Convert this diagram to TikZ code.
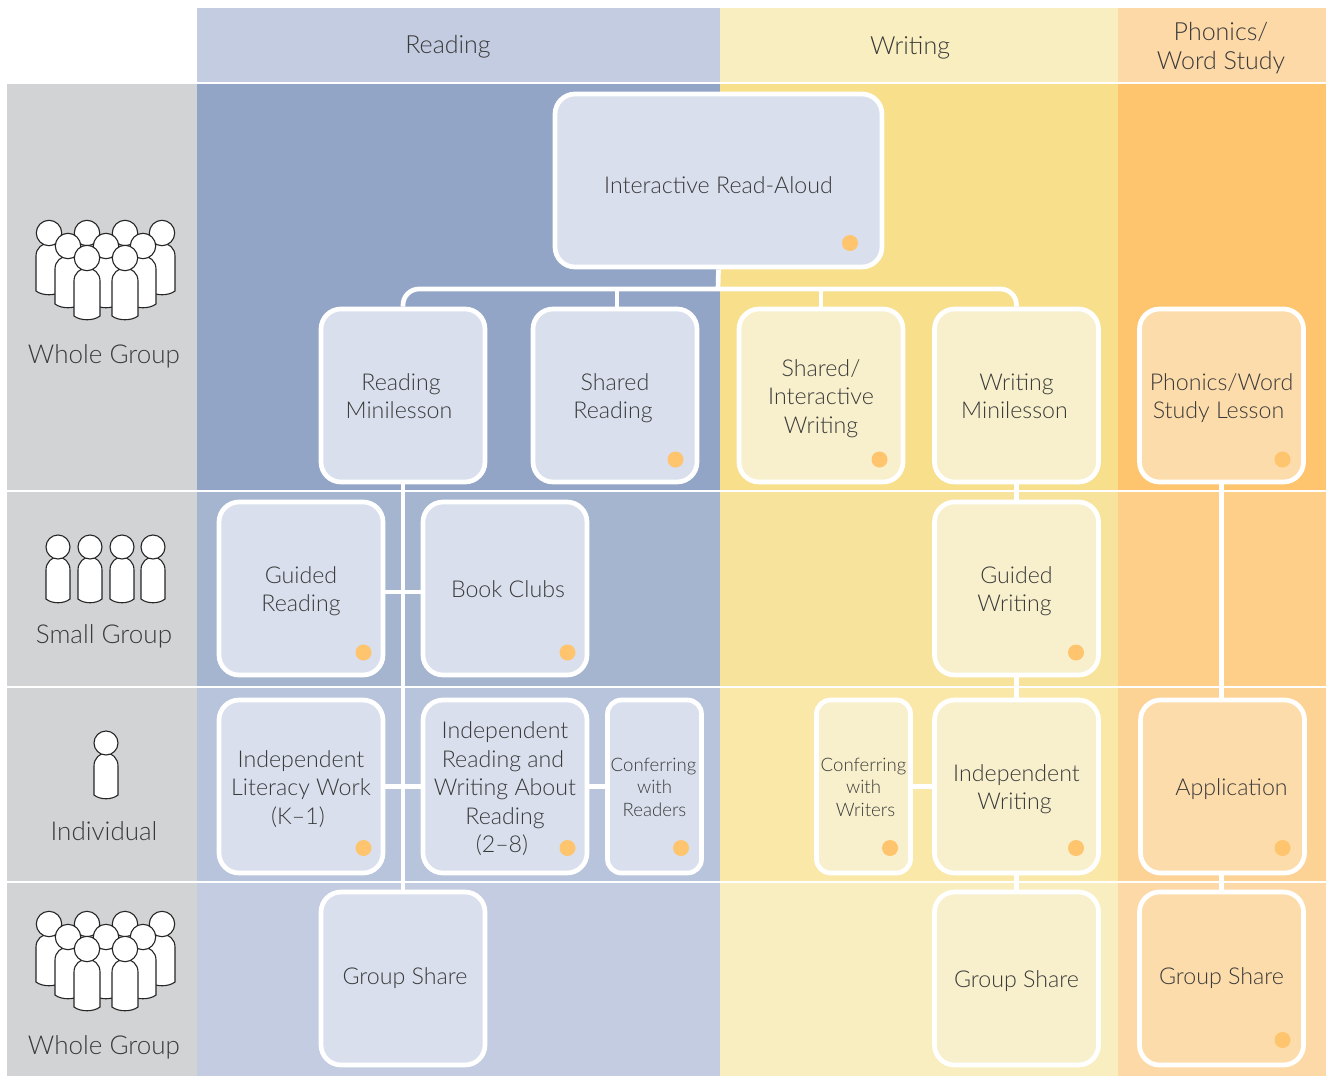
\documentclass[tikz,border=0pt]{standalone}
\usepackage{fontspec}
\setmainfont{Lato}[UprightFont=* Light]
\definecolor{ink}{HTML}{3A3A3A}
\definecolor{lab}{HTML}{D1D3D5}
\definecolor{hr}{HTML}{C3CCE0}\definecolor{hw}{HTML}{F9EEC0}\definecolor{hp}{HTML}{FDD9A8}
\definecolor{ra}{HTML}{92A5C6}\definecolor{wa}{HTML}{F7DF8C}\definecolor{pa}{HTML}{FEC46E}
\definecolor{rb}{HTML}{A5B5D0}\definecolor{wb}{HTML}{F8E39C}\definecolor{pb}{HTML}{FECF88}
\definecolor{rc}{HTML}{B8C3DC}\definecolor{wc}{HTML}{FAE8A8}\definecolor{pc}{HTML}{FDD295}
\definecolor{fr}{HTML}{D9DFED}\definecolor{fw}{HTML}{F8F0CC}\definecolor{fp}{HTML}{FDDCAB}
\definecolor{dotc}{HTML}{FEC46E}
\newcommand{\ls}[1]{\hspace*{#1pt}}
\newcommand{\up}{\rule{0pt}{1.16em}}
\tikzset{
  card/.style={draw=white,line width=4.7pt,rounded corners=20pt,align=center,text=ink,inner sep=0pt,
    font=\fontsize{23.2}{28.5}\selectfont,execute at end node=\strut},
  big/.style={card,minimum width=164pt,minimum height=173pt},
  slim/.style={card,rounded corners=14pt,minimum width=94pt,minimum height=173pt,font=\fontsize{18.6}{22.5}\selectfont},
  wide/.style={card,minimum width=327pt,minimum height=173pt},
  conn/.style={draw=white,line width=4.7pt},
  hdr/.style={text=ink,align=center,inner sep=0pt,font=\fontsize{25}{29.5}\selectfont},
  rowlab/.style={text=ink,inner sep=0pt,font=\fontsize{26}{32}\selectfont},
  dotmark/.style={fill=dotc,draw=none},
  icon/.style={draw=black!85,line width=1.1pt,fill=white}
}
% #1 x, #2 y of the head centre, #3 head radius, #4 body half width, #5 offset of the body foot
\newcommand{\personicon}[5]{%
  \path[icon] ({#1-#4},{#2+#5-4}) -- ({#1-#4},{#2+23})
     .. controls ({#1-#4},{#2+15}) and ({#1-0.5*#4},{#2+10}) .. ({#1},{#2+10})
     .. controls ({#1+0.5*#4},{#2+10}) and ({#1+#4},{#2+15}) .. ({#1+#4},{#2+23})
     -- ({#1+#4},{#2+#5-4})
     .. controls ({#1+0.5*#4},{#2+#5+1}) and ({#1-0.5*#4},{#2+#5+1}) .. cycle;
  \path[icon] (#1,#2) circle (#3);
}
\newcommand{\crowdicon}[1]{%
  \foreach \px in {49,87,125,162}{\personicon{\px}{233+#1}{12.7}{13}{62}}
  \foreach \px in {68,106,143}{\personicon{\px}{246+#1}{12.7}{13}{62}}
  \foreach \px in {87,125}{\personicon{\px}{258+#1}{12.7}{13}{62}}
}
\begin{document}
\begin{tikzpicture}[x=1pt,y=-1pt]
\useasboundingbox (0,0) rectangle (1328,1076);
\fill[white] (0,0) rectangle (1328,1076);
% header bands
\fill[hr] (197,8) rectangle (720,82);
\fill[hw] (720,8) rectangle (1118,82);
\fill[hp] (1118,8) rectangle (1326,82);
% row bands
\fill[lab] (7,84) rectangle (197,490);
\fill[ra] (197,84) rectangle (720,490);
\fill[wa] (720,84) rectangle (1118,490);
\fill[pa] (1118,84) rectangle (1326,490);
\fill[lab] (7,492) rectangle (197,686);
\fill[rb] (197,492) rectangle (720,686);
\fill[wb] (720,492) rectangle (1118,686);
\fill[pb] (1118,492) rectangle (1326,686);
\fill[lab] (7,688) rectangle (197,881);
\fill[rc] (197,688) rectangle (720,881);
\fill[wc] (720,688) rectangle (1118,881);
\fill[pc] (1118,688) rectangle (1326,881);
\fill[lab] (7,883) rectangle (197,1076);
\fill[hr] (197,883) rectangle (720,1076);
\fill[hw] (720,883) rectangle (1118,1076);
\fill[hp] (1118,883) rectangle (1326,1076);
% headers
\node[hdr] (hReading) at (448,47) {Reading};
\node[hdr] (hWriting) at (910,48) {Writing};
\node[hdr] (hPhonics) at (1221,48) {Phonics/\\Word Study};
% row labels and icons
\crowdicon{0}
\node[rowlab] (lWhole) at (104,356) {Whole Group};
\personicon{58}{547}{12}{12}{56}
\personicon{90}{547}{12}{12}{56}
\personicon{122}{547}{12}{12}{56}
\personicon{153}{547}{12}{12}{56}
\node[rowlab] (lSmall) at (104,636) {Small Group};
\personicon{106}{743}{12}{12}{56}
\node[rowlab] (lIndiv) at (104,831) {Individual};
\crowdicon{691}
\node[rowlab] (lWhole2) at (104,1047) {Whole Group};
% cards
\node[wide,fill=fr,text height=26pt,text depth=0pt] (ira) at (718.5,180.5) {Interactive Read-Aloud};
\node[big,fill=fr] (rm) at (403,395.5) {\up\ls{-4}Reading\\\ls{-8}Minilesson};
\node[big,fill=fr] (sr) at (615,395.5) {\up Shared\\\ls{-4}Reading};
\node[big,fill=fw] (si) at (821,395.5) {\up Shared/\\Interactive\\Writing};
\node[big,fill=fw] (wm) at (1016.5,395.5) {\up Writing\\\ls{-4}Minilesson};
\node[big,fill=fp] (ph) at (1221.5,395.5) {\up Phonics/Word\\\ls{-6}Study Lesson};
\node[big,fill=fr] (gr) at (301,588.5) {\up Guided\\Reading};
\node[big,fill=fr] (bc) at (505,588.5) {\up\ls{6}Book Clubs};
\node[big,fill=fw] (gw) at (1016.5,588.5) {\up Guided\\\ls{-4}Writing};
\node[big,fill=fr] (il) at (301,786.5) {\up Independent\\Literacy Work\\\ls{-6}(K--1)};
\node[big,fill=fr] (ir) at (505,786.5) {\up Independent\\\ls{-4}Reading and\\Writing About\\Reading\\\ls{-6}(2--8)};
\node[slim,fill=fr] (cr) at (654.5,786.5) {\up\ls{-2}Conferring\\with\\Readers};
\node[slim,fill=fw] (cw) at (863.5,786.5) {\up Conferring\\with\\\ls{4}Writers};
\node[big,fill=fw] (iw) at (1016.5,786.5) {\up Independent\\\ls{-4}Writing};
\node[big,fill=fp] (app) at (1222.5,786.5) {\up\ls{18}Application};
\node[big,fill=fr] (gs1) at (403,978.5) {\strut\ls{4}Group Share};
\node[big,fill=fw] (gs2) at (1016.5,978.5) {\up Group Share};
\node[big,fill=fp] (gs3) at (1221.5,978.5) {\strut Group Share};
% connectors
\coordinate (bus) at (718,289);
\draw[conn] (ira.south) -- (bus);
\draw[conn,rounded corners=16pt] (rm.north) |- (bus);
\draw[conn,rounded corners=16pt] (wm.north) |- (bus);
\draw[conn] (sr.north) ++(2,0) -- ++(0,-18);
\draw[conn] (si.north) -- (si.north |- bus);
\draw[conn] (rm.south) -- (gs1.north);
\draw[conn] (wm.south) -- (gw.north);
\draw[conn] (gw.south) -- (iw.north);
\draw[conn] (iw.south) -- (gs2.north);
\draw[conn] (ph.south) -- (app.north -| ph.south);
\draw[conn] (app.south -| gs3.north) -- (gs3.north);
\coordinate (jr) at (403,592);
\draw[conn] (gr.east |- jr) -- (bc.west |- jr);
\draw[conn] (il.east) -- (ir.west);
\draw[conn] (ir.east) -- (cr.west);
\draw[conn] (cw.east) -- (iw.west);
% markers
\foreach \dx/\dy in {850/243,675.5/459.5,879.5/459.5,1282.5/459.5,363.5/652.5,567.5/652.5,1076/652.5,363.5/848,567.5/848,681/848,890/848,1076/848,1282.5/848,1282.5/1040}
  \fill[dotmark] (\dx,\dy) circle (8);
\end{tikzpicture}
\end{document}
